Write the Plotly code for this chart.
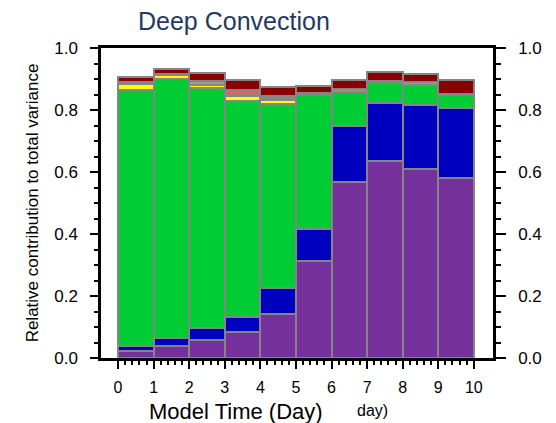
import plotly.graph_objects as go

days = [0.5, 1.5, 2.5, 3.5, 4.5, 5.5, 6.5, 7.5, 8.5, 9.5]
purple = [0.024, 0.039, 0.058, 0.083, 0.143, 0.313, 0.568, 0.637, 0.610, 0.580]
blue = [0.016, 0.024, 0.039, 0.050, 0.082, 0.103, 0.180, 0.185, 0.206, 0.225]
green = [0.824, 0.837, 0.774, 0.696, 0.594, 0.431, 0.111, 0.065, 0.065, 0.043]
yellow = [0.020, 0.012, 0.011, 0.017, 0.012, None, None, None, None, None]
tan = [0.005, 0.003, 0.010, 0.002, 0.004, 0.008, 0.010, 0.008, 0.008, 0.004]
salmon = [None, None, None, 0.016, 0.010, None, None, None, None, None]
darkred = [0.016, 0.018, 0.026, 0.033, 0.028, 0.022, 0.028, 0.027, 0.028, 0.045]

x_ticks = list(range(0, 11))
x_minor = [i / 5 for i in range(0, 51) if i % 5 != 0]
y_ticks = [0.0, 0.2, 0.4, 0.6, 0.8, 1.0]
y_labels = ["0.0", "0.2", "0.4", "0.6", "0.8", "1.0"]

series = [
    ("Component 1", purple, "#76309c"),
    ("Component 2", blue, "#0000bf"),
    ("Component 3", green, "#00cc33"),
    ("Component 4", yellow, "#ffff00"),
    ("Component 5", tan, "#a89c7c"),
    ("Component 6", salmon, "#ff5a50"),
    ("Component 7", darkred, "#880000"),
]

fig = go.Figure()
for name, vals, col in series:
    fig.add_trace(go.Bar(
        x=days, y=vals, width=1.0, name=name,
        marker=dict(color=col, line=dict(color="#858585", width=2)),
        showlegend=False,
    ))

# invisible trace for the right-hand axis
fig.add_trace(go.Scatter(x=[0.5], y=[0.5], yaxis="y2", mode="markers",
                         marker=dict(opacity=0), showlegend=False, hoverinfo="skip"))

font_family = "Liberation Sans, Arial, Helvetica, sans-serif"

fig.update_layout(
    width=556, height=423,
    margin=dict(l=101, r=63, t=48, b=65),
    paper_bgcolor="white", plot_bgcolor="white",
    barmode="stack", bargap=0,
    font=dict(family=font_family, color="black"),
    xaxis=dict(
        range=[-0.48, 10.54], showgrid=False, zeroline=False,
        showline=True, linecolor="black", linewidth=2.5, mirror=True,
        tickmode="array", tickvals=x_ticks, ticktext=[str(v) for v in x_ticks],
        ticks="outside", ticklen=8, tickwidth=2, tickcolor="black",
        tickfont=dict(size=16), ticklabelstandoff=5,
        minor=dict(tickmode="array", tickvals=x_minor, ticks="outside",
                   ticklen=4, tickwidth=1.5, tickcolor="black"),
    ),
    yaxis=dict(
        range=[0, 1.0], showgrid=False, zeroline=False,
        showline=True, linecolor="black", linewidth=2.5,
        tickmode="array", tickvals=y_ticks, ticktext=y_labels,
        ticks="outside", ticklen=8, tickwidth=2, tickcolor="black",
        tickfont=dict(size=17), ticklabelstandoff=9,
        minor=dict(dtick=0.05, tick0=0, ticks="outside", ticklen=4,
                   tickwidth=1.5, tickcolor="black"),
        title=dict(text="Relative contribution to total variance",
                   font=dict(size=17), standoff=12),
    ),
    yaxis2=dict(
        range=[0, 1.0], overlaying="y", side="right", anchor="x",
        showgrid=False, zeroline=False,
        showline=True, linecolor="black", linewidth=2.5,
        tickmode="array", tickvals=y_ticks, ticktext=y_labels,
        ticks="outside", ticklen=10, tickwidth=2, tickcolor="black",
        tickfont=dict(size=17), ticklabelstandoff=9,
        minor=dict(dtick=0.05, tick0=0, ticks="outside", ticklen=5,
                   tickwidth=1.5, tickcolor="black"),
    ),
    annotations=[
        dict(text="Deep Convection", xref="paper", yref="paper",
             x=(234 - 101) / 392, y=(358 - 20.5) / 310.3,
             xanchor="center", yanchor="middle", showarrow=False,
             font=dict(size=25, color="#233a5e")),
        dict(text="Model Time (Day)", xref="paper", yref="paper",
             x=(235.5 - 101) / 392, y=(358 - 412) / 310.3,
             xanchor="center", yanchor="middle", showarrow=False,
             font=dict(size=22, color="black")),
        dict(text="day)", xref="paper", yref="paper",
             x=(372.5 - 101) / 392, y=(358 - 411) / 310.3,
             xanchor="center", yanchor="middle", showarrow=False,
             font=dict(size=16, color="black")),
    ],
)

fig.write_html("out.html")
